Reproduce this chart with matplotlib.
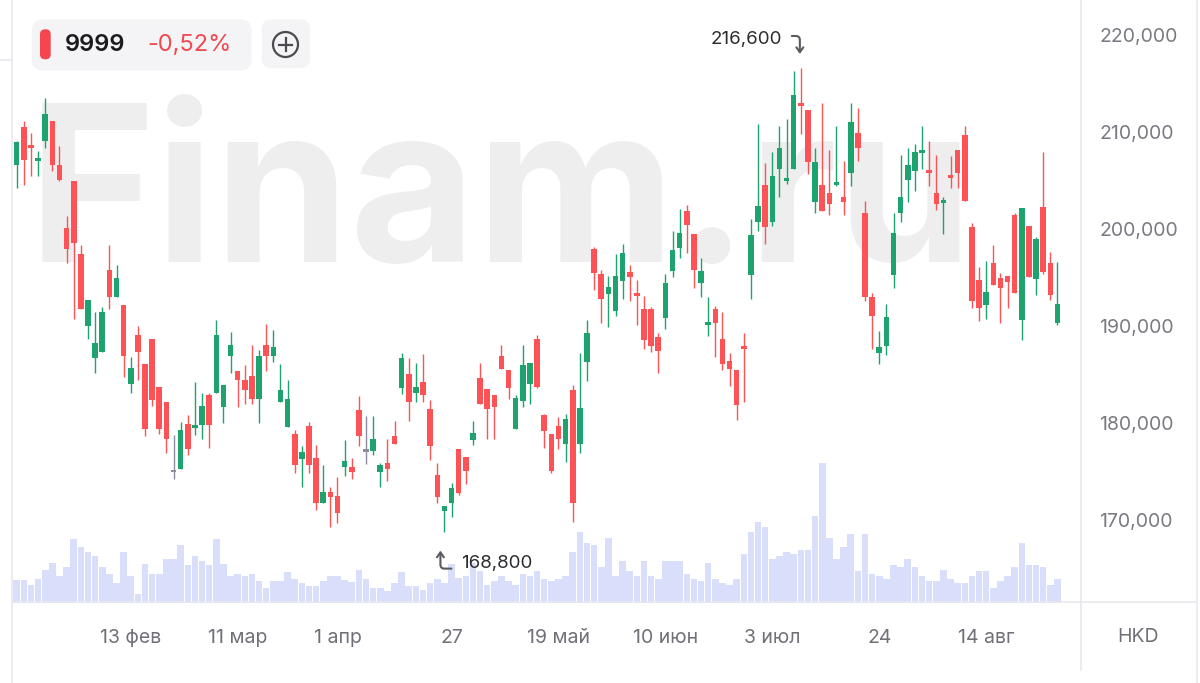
import matplotlib
matplotlib.use("Agg")
import matplotlib.pyplot as plt
from matplotlib.patches import FancyBboxPatch, Circle
from matplotlib.transforms import offset_copy
from matplotlib.ticker import FuncFormatter

# daily candles, HKD
opens = [206.6, 210.55, 208.5, 207.0, 209.1, 211.1, 206.6, 200.1, 205.0, 197.4, 190.0, 186.7, 187.35,
         195.8, 193.0, 192.2, 184.0, 189.1, 186.05, 188.7, 183.7, 182.2, 174.9, 175.3, 179.9, 179.5,
         179.8, 182.9, 183.1, 181.6, 186.9, 185.4, 184.4, 184.85, 182.45, 188.0, 186.9, 182.2, 179.55,
         178.9, 176.25, 179.7, 176.4, 171.8, 172.9, 172.5, 175.5, 175.5, 181.3, 177.0, 177.1, 174.9, 175.9,
         178.7, 183.6, 185.1, 183.1, 184.2, 181.4, 174.6, 170.9, 171.8, 177.3, 176.5, 178.2, 184.6, 183.5,
         182.9, 186.9, 185.5, 179.4, 182.3, 184.0, 188.7, 180.8, 178.9, 179.7, 177.8, 183.4, 177.8, 186.3,
         197.9, 195.4, 193.3, 191.5, 194.6, 195.6, 193.2, 191.8, 191.8, 188.9, 190.8, 195.7, 198.0, 201.9,
         199.45, 194.4, 190.1, 191.8, 188.7, 186.4, 185.5, 187.8, 195.3,
         200.75, 204.5, 200.75, 206.15, 205.0, 206.15, 212.9, 212.3, 202.8, 204.5, 203.7, 204.5, 203.3,
         205.74, 209.9, 201.7, 193.0, 187.2, 187.9, 195.25,
         201.7, 205.05, 206.0, 207.8, 206.08, 203.7, 202.7, 205.5, 208.1, 209.7, 200.2, 194.74, 192.17,
         196.5, 194.9, 195.16, 201.44, 190.62, 200.31, 194.8, 202.3, 196.46, 190.27]
highs = [209.1, 211.1, 209.9, 208.0, 213.5, 211.1, 208.6, 201.3, 205.0, 198.35, 192.7, 191.4, 192.0,
         198.4, 196.3, 192.2, 186.8, 190.0, 186.05, 188.7, 183.7, 182.2, 178.76, 180.1, 180.8, 184.2,
         183.1, 183.1, 190.6, 183.9, 189.35, 185.4, 186.0, 188.0, 187.5, 190.2, 189.6, 186.1, 184.4,
         179.3, 177.6, 180.1, 177.7, 175.7, 173.4, 174.4, 178.2, 176.4, 182.8, 180.7, 180.7, 175.9, 178.3,
         180.2, 187.2, 186.7, 186.2, 187.1, 182.4, 175.9, 171.4, 173.8, 177.3, 176.5, 180.2, 186.2, 183.5,
         182.9, 188.0, 185.5, 182.9, 188.0, 186.2, 189.1, 180.9, 178.9, 180.6, 180.9, 183.9, 187.2, 190.6,
         198.1, 195.8, 195.2, 197.4, 198.5, 196.3, 194.7, 193.1, 192.0, 189.3, 195.4, 199.8, 202.1, 202.5,
         199.45, 197.0, 193.0, 192.1, 191.4, 187.2, 185.5, 189.3, 201.0,
         210.8, 206.8, 207.9, 210.6, 211.3, 216.3, 216.6, 212.3, 208.3, 213.0, 208.1, 210.6, 207.0,
         213.0, 212.5, 202.9, 193.4, 189.5, 192.27, 201.6,
         207.63, 208.3, 208.8, 210.6, 209.1, 207.6, 203.3, 207.5, 208.1, 210.6, 200.66, 196.05, 196.74,
         198.35, 195.43, 195.16, 201.7, 202.13, 200.31, 199.14, 207.97, 197.67, 196.6]
lows = [204.2, 204.5, 205.5, 205.5, 208.3, 206.0, 205.0, 196.5, 190.7, 191.8, 188.7, 185.2, 187.35,
        191.8, 193.0, 184.7, 183.1, 184.4, 178.7, 181.75, 178.9, 176.9, 174.2, 175.3, 176.7, 178.8,
        178.4, 177.4, 183.1, 180.0, 185.2, 181.6, 182.0, 182.0, 180.0, 185.4, 186.3, 182.2, 179.55,
        174.8, 173.4, 174.8, 171.0, 171.8, 169.3, 169.7, 174.5, 174.2, 177.6, 175.8, 176.7, 173.4, 174.0,
        177.8, 183.0, 180.2, 182.2, 182.2, 176.2, 171.7, 168.8, 170.3, 172.6, 173.7, 177.7, 182.0, 178.4,
        178.4, 185.6, 182.5, 179.4, 181.6, 182.0, 183.6, 177.4, 174.8, 177.3, 176.0, 169.8, 176.9, 184.3,
        193.7, 190.3, 189.9, 191.0, 192.75, 192.6, 190.1, 187.6, 187.35, 185.2, 189.7, 195.0, 197.0, 197.5,
        193.9, 193.0, 189.0, 186.8, 185.5, 183.8, 180.3, 182.2, 192.75,
        199.8, 198.45, 200.3, 203.26, 204.6, 206.15, 209.8, 205.7, 201.7, 201.9, 201.4, 204.4, 201.4,
        204.4, 207.04, 192.6, 187.6, 186.1, 187.0, 193.9,
        200.76, 202.8, 203.95, 206.15, 204.4, 201.96, 199.5, 204.2, 204.2, 202.9, 191.82, 190.55, 190.69,
        194.23, 190.28, 191.82, 193.44, 188.56, 195.02, 193.2, 195.36, 192.68, 190.1]
closes = [209.0, 207.1, 208.4, 207.1, 211.9, 206.6, 205.05, 197.9, 198.6, 191.8, 192.7, 188.2, 191.4,
          193.0, 194.9, 186.9, 185.7, 187.35, 179.35, 182.4, 179.35, 178.4, 174.9, 179.3, 177.3, 179.7,
          181.7, 179.8, 189.1, 183.9, 188.0, 184.4, 183.4, 182.45, 186.9, 186.9, 187.8, 183.4, 182.45,
          175.7, 177.0, 175.7, 171.8, 172.9, 172.4, 170.7, 176.1, 174.9, 178.7, 177.0, 178.3, 175.7, 175.3,
          177.8, 186.7, 182.2, 183.7, 182.9, 177.6, 172.4, 171.4, 173.3, 172.8, 175.1, 179.0, 182.0, 181.4,
          181.6, 185.6, 183.6, 182.6, 186.0, 186.2, 183.7, 179.2, 175.1, 178.3, 180.4, 171.8, 181.5, 189.3,
          195.5, 192.75, 194.0, 195.2, 197.56, 195.0, 193.05, 188.56, 187.9, 187.45, 194.4, 197.8, 199.6,
          200.4, 195.8, 195.7, 190.4, 190.3, 186.1, 185.6, 181.9, 187.6, 199.4,
          202.4, 200.2, 205.46, 208.3, 205.2, 213.8, 212.7, 206.9, 206.9, 201.9, 202.6, 204.55, 202.8,
          211.06, 208.4, 193.0, 191.0, 187.8, 190.9, 199.6,
          203.27, 206.6, 207.97, 207.97, 205.8, 202.6, 203.0, 205.3, 205.8, 202.9, 192.6, 191.82, 193.54,
          194.23, 193.88, 194.57, 193.44, 202.13, 195.02, 198.94, 195.6, 193.2, 192.27]
volumes = [6.7, 6.7, 5.2, 6.9, 9.5, 11.5, 7.9, 10.5, 18.7, 16.2,
           14.7, 13.7, 10.5, 8.4, 5.9, 14.7, 7.7, 2.5, 11.4, 8.4,
           8.4, 12.7, 12.7, 16.9, 11.0, 13.7, 12.2, 11.0, 18.7, 11.4,
           7.9, 8.3, 7.9, 8.4, 6.4, 4.4, 6.4, 6.4, 9.0, 6.9,
           5.7, 5.0, 5.0, 6.4, 7.7, 7.7, 6.7, 6.2, 9.5, 6.9,
           4.4, 4.4, 3.5, 5.9, 9.0, 5.0, 5.0, 3.7, 5.9, 6.9,
           5.9, 11.4, 7.2, 7.7, 11.7, 9.2, 5.2, 6.4, 7.7, 6.4,
           5.2, 8.4, 7.9, 9.2, 6.9, 6.4, 6.9, 7.9, 14.7, 20.7,
           17.4, 16.9, 10.5, 18.9, 7.9, 12.2, 9.2, 7.9, 12.2, 7.9,
           6.9, 12.2, 12.2, 12.2, 8.4, 6.9, 6.5, 11.5, 6.9, 5.9,
           5.2, 6.9, 14.2, 20.7, 23.4, 22.0, 12.9, 13.7, 14.7, 14.2,
           15.5, 15.5, 25.2, 40.7, 18.9, 12.9, 16.2, 20.0, 9.2, 20.0,
           8.4, 7.9, 6.9, 11.0, 10.5, 12.7, 10.5, 7.9, 6.4, 6.4,
           9.5, 6.9, 5.9, 5.9, 7.9, 9.2, 9.2, 4.4, 6.5, 7.9,
           10.5, 17.4, 11.0, 11.0, 10.5, 5.2, 6.9]

date_pos = [16, 31, 45, 61, 76, 91, 106, 121, 136]
date_labels = ["13 фев", "11 мар", "1 апр", "27", "19 май", "10 июн", "3 июл", "24", "14 авг"]
price_ticks = [170, 180, 190, 200, 210, 220]

ticker = "9999"
change = "-0,52%"
currency = "HKD"

GREEN = "#1ea36f"
RED = "#fd5256"
GRAY = "#8d8d9c"
VOL = "#d9defb"
LINE = "#e7e7ee"

plt.rcParams["font.family"] = ["Inter", "DejaVu Sans"]


def rus(v):
    return f"{v:.3f}".replace(".", ",")


fig = plt.figure(figsize=(12, 6.83), dpi=100)
W, H = 1200, 683
rect = [13 / W, (H - 603) / H, (1081 - 13) / W, 603 / H]

# volume + watermark underneath
axv = fig.add_axes(rect)
x = list(range(len(closes)))
axv.bar(x, volumes, width=0.92, color=VOL, linewidth=0)
axv.set_ylim(0, 175)
axv.set_xlim(-0.52, 149.3)
axv.axis("off")
axv.text(0.014, 0.566, "Finam.ru", transform=axv.transAxes, fontsize=157, fontweight="bold",
         color="#eeeeee", ha="left", va="baseline", zorder=0)

# candles on top
ax = fig.add_axes(rect, facecolor="none")
for i in x:
    o, h, l, c = opens[i], highs[i], lows[i], closes[i]
    col = GREEN if c > o else (RED if c < o else GRAY)
    ax.vlines(i, l, h, color=col, lw=1.0, zorder=2)
    ax.bar(i, max(abs(c - o), 0.3), bottom=min(o, c), width=0.78, color=col, linewidth=0, zorder=3)

ax.set_xlim(-0.52, 149.3)
ax.set_ylim(161.44, 223.61)
for s in ax.spines.values():
    s.set_visible(False)
ax.yaxis.tick_right()
ax.set_yticks(price_ticks)
ax.yaxis.set_major_formatter(FuncFormatter(lambda v, p: rus(v)))
ax.tick_params(axis="y", length=0, pad=13, labelsize=14, labelcolor="#7a7a82")
ax.set_xticks(date_pos)
ax.set_xticklabels(date_labels)
ax.tick_params(axis="x", length=0, pad=19, labelsize=14, labelcolor="#707078")

# high / low markers
hi = max(range(len(highs)), key=lambda k: highs[k])
lo = min(range(len(lows)), key=lambda k: lows[k])
arrow = dict(arrowstyle="->,head_length=0.35,head_width=0.25", color="#5a5a60", lw=1.5,
             shrinkA=0, shrinkB=0)
ax.annotate(rus(highs[hi]), xy=(hi, highs[hi]), xytext=(-19, 28), textcoords="offset pixels",
            ha="right", va="center", fontsize=13.5, color="#2c2c30")
ax.annotate("", xy=(hi, highs[hi]), xycoords=offset_copy(ax.transData, fig, x=-1, y=14, units="dots"),
            xytext=(-8, 18), textcoords="offset pixels",
            arrowprops=dict(connectionstyle="angle,angleA=0,angleB=90,rad=4", **arrow))
ax.annotate(rus(lows[lo]), xy=(lo, lows[lo]), xytext=(17, -32), textcoords="offset pixels",
            ha="left", va="center", fontsize=13.5, color="#2c2c30")
ax.annotate("", xy=(lo, lows[lo]), xycoords=offset_copy(ax.transData, fig, x=-4, y=-19, units="dots"),
            xytext=(11, -18), textcoords="offset pixels",
            arrowprops=dict(connectionstyle="angle,angleA=0,angleB=90,rad=4", **arrow))

# frame lines, badge, currency label
ov = fig.add_axes([0, 0, 1, 1], facecolor="none")
ov.set_xlim(0, W)
ov.set_ylim(H, 0)
ov.axis("off")
ov.plot([12, 12], [0, H], color=LINE, lw=1.2)
ov.plot([0, 12], [60, 60], color=LINE, lw=1.2)
ov.plot([12, 1195], [602, 602], color=LINE, lw=1.2)
ov.plot([1081, 1081], [0, 670], color=LINE, lw=1.2)
ov.plot([1197, 1197], [0, H], color=LINE, lw=1.2)
ov.text(1138, 637, currency, ha="center", va="center", fontsize=14, color="#707078")

ov.add_patch(FancyBboxPatch((31.7, 19.3), 220, 51.4, boxstyle="round,pad=0,rounding_size=12",
                            facecolor="#f4f4f6", edgecolor="none"))
ov.add_patch(FancyBboxPatch((40, 29.3), 10.7, 30, boxstyle="round,pad=0,rounding_size=5",
                            facecolor="#f5454f", edgecolor="none"))
ov.text(65, 45, ticker, ha="left", va="center", fontsize=17, fontweight="semibold", color="#1b1b1f")
ov.text(147, 45, change, ha="left", va="center", fontsize=17, color="#f04a50")
ov.add_patch(FancyBboxPatch((261.7, 19.3), 48.3, 49, boxstyle="round,pad=0,rounding_size=10",
                            facecolor="#f4f4f6", edgecolor="none"))
ov.add_patch(Circle((285.5, 44.5), 12.5, fill=False, edgecolor="#4a4a50", lw=1.6))
ov.plot([279, 292], [44.5, 44.5], color="#4a4a50", lw=1.6)
ov.plot([285.5, 285.5], [38, 51], color="#4a4a50", lw=1.6)

fig.savefig("out.png", dpi=100)
